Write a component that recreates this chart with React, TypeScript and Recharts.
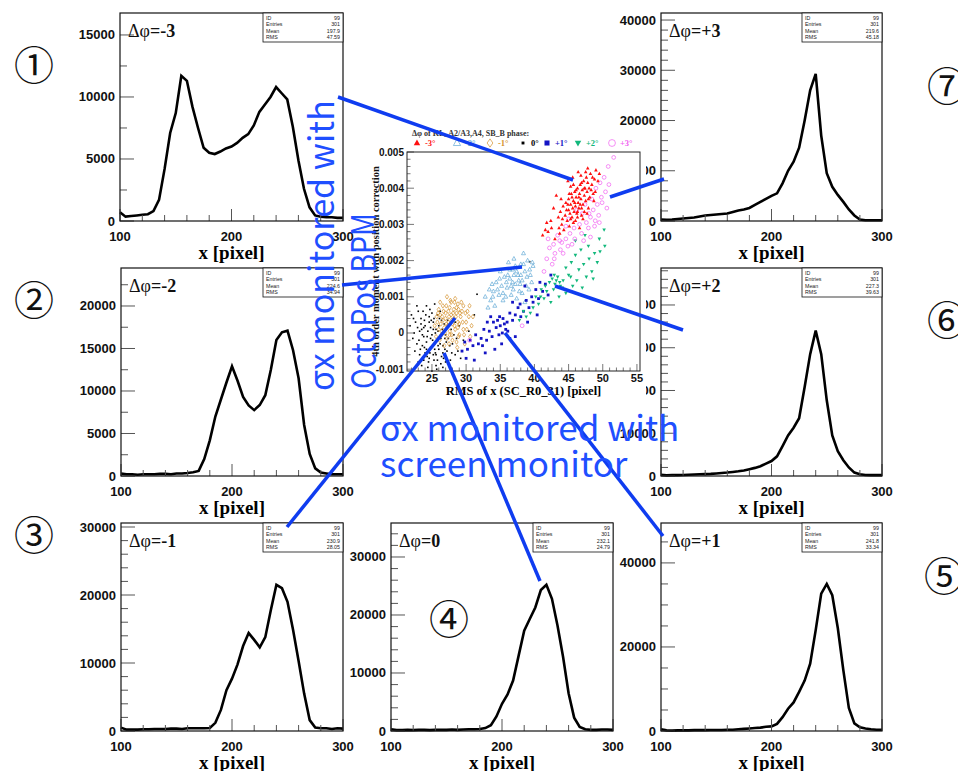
import React from "react";
import { LineChart, Line, XAxis, YAxis, ScatterChart, Scatter } from "recharts";

const SANS = "Liberation Sans, Arial, sans-serif";
const SERIF = "Liberation Serif, Times New Roman, serif";
const JP = "Noto Sans CJK JP, sans-serif";

// histogram bins, x [pixel]
const BINS = [100, 105, 110, 115, 120, 125, 130, 135, 140, 145, 150, 155, 160, 165, 170, 175, 180, 185, 190, 195, 200, 205, 210, 215, 220, 225, 230, 235, 240, 245, 250, 255, 260, 265, 270, 275, 280, 285, 290, 295, 300];
const X_TICKS = [100, 120, 140, 160, 180, 200, 220, 240, 260, 280, 300];

// counts per bin, one profile per phase shift
const H_M3 = [700, 350, 400, 450, 500, 550, 800, 1700, 4200, 7100, 8700, 11700, 11300, 9200, 7500, 5900, 5500, 5400, 5600, 5850, 6000, 6300, 6700, 7000, 7700, 8800, 9400, 10000, 10800, 10300, 9800, 7600, 4900, 2600, 1100, 450, 350, 300, 300, 250, 250];
const H_M2 = [300, 200, 200, 150, 200, 200, 200, 250, 250, 200, 300, 300, 350, 450, 600, 2000, 4200, 7000, 9000, 11000, 12900, 11200, 9300, 8300, 7750, 8350, 9500, 12500, 16000, 16900, 17100, 14800, 11500, 6000, 2600, 900, 400, 300, 200, 200, 200];
const H_M1 = [500, 200, 200, 200, 250, 250, 300, 300, 300, 350, 350, 300, 400, 400, 400, 400, 450, 1200, 3100, 6000, 7700, 9800, 12500, 14400, 13400, 12300, 13800, 17800, 21500, 21000, 19000, 14900, 10300, 5500, 1600, 500, 400, 400, 300, 400, 350];
const H_0 = [300, 150, 150, 200, 150, 200, 200, 150, 200, 200, 200, 250, 200, 250, 300, 300, 350, 500, 1000, 2500, 4700, 6300, 8700, 13000, 17300, 19300, 21300, 24300, 25200, 22800, 18200, 12800, 6500, 2300, 700, 300, 200, 200, 250, 250, 200];
const H_P1 = [400, 150, 100, 150, 150, 150, 200, 200, 200, 250, 250, 250, 300, 300, 400, 500, 600, 700, 800, 1000, 1100, 1700, 3300, 5300, 6800, 9300, 12000, 16000, 24000, 32700, 35000, 32300, 24500, 14500, 5500, 1800, 900, 600, 400, 300, 300];
const H_P2 = [300, 150, 200, 200, 250, 300, 350, 400, 450, 500, 600, 700, 800, 950, 1100, 1300, 1600, 1900, 2300, 2900, 3500, 4600, 7000, 9500, 11300, 13500, 20800, 28500, 34000, 28500, 17700, 9500, 5800, 3700, 2000, 800, 400, 250, 200, 200, 200];
const H_P3 = [300, 250, 300, 400, 500, 600, 700, 900, 1100, 1200, 1300, 1400, 1500, 1800, 2100, 2300, 2600, 3200, 3800, 4400, 5000, 5500, 7500, 10000, 11800, 14600, 20000, 26000, 29300, 17000, 9500, 6800, 5200, 3800, 2300, 1100, 300, 150, 150, 150, 150];

// scatter points: [RMS of x, 4th order moment in units of 1e-3]
const S_ZERO = [[23.0, 0.6], [24.2, 0.75], [25.4, 0.8], [22.6, 0.3], [23.4, 0.4], [24.0, 0.2], [24.6, 0.45], [25.2, 0.3], [25.8, 0.5], [26.4, 0.35], [22.4, 0.0], [23.2, 0.05], [23.8, -0.1], [24.4, 0.05], [25.0, -0.05], [25.6, 0.1], [26.2, -0.1], [26.8, 0.05], [27.4, -0.15], [22.8, -0.3], [23.6, -0.35], [24.2, -0.25], [24.8, -0.4], [25.4, -0.3], [26.0, -0.45], [26.6, -0.35], [27.2, -0.5], [28.0, -0.3], [23.2, -0.6], [24.0, -0.55], [24.6, -0.7], [25.2, -0.6], [25.8, -0.75], [26.4, -0.65], [27.0, -0.8], [24.4, -0.95], [25.6, -0.9], [28.8, -0.5], [29.6, -0.2], [30.4, 0.05], [22.0, 0.5], [25.0, 0.55], [26.0, 0.2], [24.8, -0.15], [25.4, -0.45], [23.8, 0.15], [27.8, 0.1], [28.4, -0.6], [23.0, -0.8], [26.2, 0.6], [22.2, -0.15], [23.6, -0.05], [24.6, 0.3], [25.8, -0.2], [26.6, -0.55], [27.6, -0.35], [25.2, 0.1], [24.2, -0.45], [23.4, 0.25], [26.8, 0.25], [27.0, -0.05], [25.6, -0.6], [24.8, 0.15], [26.2, -0.3], [23.8, -0.75], [28.2, -0.05], [22.8, 0.75], [21.8, 0.2], [29.2, -0.7], [25.0, -1.05], [31.2, 0.5], [26.6, -0.95], [39.3, 1.97], [31.6, 1.07],
  [23.1, -0.2], [23.5, 0.1], [23.9, -0.4], [24.3, -0.1], [24.7, -0.55], [25.1, -0.2], [25.5, 0.0], [25.9, -0.35], [26.3, -0.15], [26.7, -0.7], [27.1, -0.25], [27.5, 0.2], [24.1, 0.5], [24.5, -0.8], [25.3, 0.4], [25.7, -1.0], [26.1, 0.4], [26.9, -0.45], [22.5, -0.5], [22.9, 0.15], [23.3, -0.45], [23.7, 0.6], [24.9, 0.35], [25.5, -0.55], [26.5, 0.1], [27.3, 0.35], [27.9, -0.55], [28.6, -0.15], [29.0, 0.2], [24.3, -0.65], [25.9, 0.05], [26.3, -0.85], [23.5, -0.9], [22.3, 0.4], [24.7, 0.65], [25.3, -0.75], [26.9, -0.15], [28.4, 0.3], [27.7, -0.75], [23.9, 0.35]];
const S_M1 = [[27.2, 1.0], [28.4, 0.95], [26.6, 0.75], [27.6, 0.7], [28.8, 0.8], [29.6, 0.75], [30.2, 0.6], [26.2, 0.5], [27.0, 0.55], [27.8, 0.5], [28.6, 0.55], [29.2, 0.45], [30.0, 0.3], [30.8, 0.2], [25.8, 0.3], [26.6, 0.35], [27.4, 0.3], [28.0, 0.25], [28.8, 0.3], [29.6, 0.1], [26.0, 0.1], [26.8, 0.15], [27.6, 0.05], [28.4, 0.1], [29.0, -0.05], [25.6, -0.1], [26.4, -0.05], [27.2, -0.15], [28.0, -0.2], [28.6, -0.25], [29.8, -0.3], [27.0, 0.4], [28.2, 0.4], [26.0, 0.65], [29.4, 0.6], [30.6, -0.1], [25.4, 0.2], [27.8, 0.85], [26.8, -0.35], [28.8, 0.15], [27.4, 0.6], [28.2, 0.65], [26.4, 0.05], [29.0, 0.25], [27.6, -0.05], [28.6, 0.7], [26.2, 0.85], [30.4, 0.45],
  [27.3, 0.2], [27.9, 0.35], [28.5, 0.45], [29.1, 0.55], [26.5, 0.45], [27.1, 0.75], [27.7, 0.9], [28.3, 0.2], [28.9, -0.1], [29.5, 0.3], [30.1, 0.1], [26.9, 0.0], [27.5, -0.3], [28.1, 0.55], [26.3, 0.25], [25.9, 0.55], [29.3, 0.85], [30.5, 0.75], [31.0, 0.45], [28.7, -0.4], [27.9, -0.05], [26.7, 0.6], [29.9, 0.55], [28.3, 0.85], [27.5, 0.45], [26.1, -0.2], [29.7, -0.05], [25.7, 0.45], [28.9, 0.65], [27.1, 0.25]];
const S_M2 = [[39.8, 1.85], [39.4, 1.6], [39.0, 2.0], [38.6, 1.7], [38.2, 1.45], [38.8, 1.3], [38.0, 1.9], [37.6, 1.6], [37.2, 1.35], [37.8, 1.15], [36.8, 1.75], [36.4, 1.5], [36.0, 1.25], [36.6, 1.05], [35.6, 1.55], [35.2, 1.3], [34.8, 1.05], [35.4, 0.9], [34.4, 1.4], [34.0, 1.15], [33.6, 0.9], [33.2, 0.7], [32.8, 1.0], [34.2, 0.75], [37.0, 2.05], [38.4, 2.2], [39.6, 1.4], [36.2, 1.95], [35.0, 1.7], [37.4, 0.95], [38.6, 0.85], [33.8, 1.35], [36.8, 1.4], [38.0, 1.6], [37.0, 1.6], [39.2, 1.2],
  [37.4, 1.7], [37.9, 1.35], [38.4, 1.9], [38.9, 1.55], [36.9, 1.2], [36.4, 1.75], [35.9, 1.4], [35.4, 1.1], [34.9, 1.5], [34.6, 1.2], [39.3, 1.75], [39.7, 1.95], [38.2, 1.1], [37.2, 1.85], [36.1, 1.6], [35.8, 1.0], [33.9, 1.0], [33.4, 1.2], [36.6, 1.3], [37.7, 1.45]];
const S_P1 = [[42.4, 1.6], [41.6, 1.35], [42.0, 1.05], [41.2, 1.15], [40.6, 0.95], [40.2, 1.2], [39.8, 0.85], [39.2, 0.7], [38.8, 0.9], [38.4, 0.6], [38.0, 0.45], [37.6, 0.7], [37.2, 0.5], [36.8, 0.35], [36.4, 0.55], [36.0, 0.3], [35.8, 0.1], [35.4, 0.4], [35.0, 0.2], [34.8, -0.05], [34.4, 0.15], [34.0, 0.3], [33.8, -0.1], [33.4, 0.05], [33.0, -0.2], [32.6, 0.1], [32.2, -0.15], [31.8, -0.3], [31.4, -0.05], [31.0, -0.35], [30.6, -0.2], [30.2, -0.45], [29.8, -0.25], [29.4, -0.5], [35.2, -0.3], [36.4, -0.15], [34.2, -0.45], [32.8, -0.55], [31.2, -0.75], [37.2, -0.1], [39.0, 0.3], [40.4, 0.5], [33.6, 0.45], [36.8, 0.85], [38.6, 1.3], [30.0, -0.7],
  [34.6, 0.35], [35.6, 0.25], [34.9, 0.45], [33.1, 0.3], [36.1, 0.05], [35.3, 0.0], [32.4, -0.35], [37.9, 0.8], [39.6, 1.0], [40.8, 1.4]];
const S_P2 = [[50.2, 2.85], [50.3, 2.4], [49.5, 2.6], [48.8, 2.2], [49.2, 1.95], [48.0, 2.05], [48.4, 1.7], [47.6, 1.55], [47.2, 1.9], [46.5, 1.75], [46.8, 2.3], [46.0, 2.15], [45.4, 1.95], [45.0, 1.6], [44.6, 1.8], [44.2, 1.45], [43.8, 1.3], [43.4, 1.55], [43.0, 1.35], [42.6, 1.5], [42.8, 1.2], [42.2, 1.4], [41.8, 1.15], [41.4, 0.95], [41.0, 1.2], [40.6, 0.8], [40.2, 1.0], [39.8, 0.7], [39.4, 0.55], [38.8, 0.45], [38.4, 0.6], [37.8, 0.35], [44.6, 1.1], [45.6, 1.3], [47.0, 1.25], [48.6, 1.5], [46.0, 2.55], [47.4, 2.7], [43.6, 1.0], [42.4, 0.85],
  [43.2, 1.45], [42.9, 1.6], [43.7, 1.4], [44.1, 1.25], [45.3, 1.55], [46.2, 1.45], [47.9, 2.4], [49.6, 2.25], [41.6, 1.3], [40.9, 1.0]];
const S_P3 = [[51.6, 4.85], [50.8, 4.6], [50.2, 4.3], [49.6, 4.15], [50.4, 3.9], [49.8, 3.75], [49.2, 3.55], [48.6, 3.4], [49.4, 3.25], [48.2, 3.2], [47.6, 3.05], [48.8, 2.95], [47.0, 3.3], [46.6, 3.0], [45.8, 2.9], [45.2, 2.75], [44.6, 2.6], [44.0, 2.5], [43.4, 2.7], [42.8, 2.45], [42.2, 2.35], [43.0, 2.2], [41.8, 2.05], [42.6, 1.9], [41.4, 1.7], [44.2, 2.2], [45.5, 2.45], [47.2, 2.55], [48.2, 2.65], [49.5, 3.05], [50.6, 3.45], [49.0, 4.0], [48.4, 3.7], [47.4, 3.55], [46.2, 3.4], [45.0, 3.15], [44.6, 2.95], [43.8, 2.3], [42.0, 2.6], [38.2, 0.2], [30.5, -0.2],
  [48.9, 3.1], [47.9, 2.9], [46.9, 2.75], [45.9, 2.6], [44.9, 2.4], [43.7, 2.55], [49.9, 3.6], [50.9, 4.1], [48.0, 3.3], [42.9, 2.05]];
const S_M3 = [[41.2, 2.7], [42.0, 2.8], [42.5, 2.9], [41.8, 3.05], [43.0, 2.6], [43.5, 3.2], [43.8, 3.35], [44.0, 3.0], [44.2, 3.5], [44.5, 3.25], [44.6, 3.6], [44.8, 3.1], [45.0, 3.4], [45.0, 3.7], [45.2, 3.3], [45.3, 3.55], [45.4, 3.85], [45.5, 3.2], [45.6, 3.45], [45.7, 3.65], [45.8, 3.35], [45.9, 3.9], [46.0, 3.5], [46.0, 3.1], [46.1, 3.75], [46.2, 3.3], [46.3, 4.0], [46.4, 3.6], [46.5, 3.45], [46.6, 3.85], [46.7, 4.1], [46.8, 3.7], [46.9, 3.25], [47.0, 3.95], [47.1, 3.55], [47.2, 4.2], [47.3, 3.8], [47.4, 4.0], [47.5, 3.65], [47.6, 4.3], [47.7, 3.9], [47.8, 4.15], [48.0, 4.0], [48.1, 3.75], [48.2, 4.4], [48.4, 4.1], [48.6, 3.85], [48.8, 4.25], [49.0, 4.5], [49.3, 4.2], [44.9, 4.2], [45.6, 4.3], [46.4, 4.45], [47.8, 4.55], [43.2, 3.8], [42.8, 3.45], [44.3, 2.85], [45.1, 2.95], [46.6, 2.9], [43.7, 2.75], [47.9, 3.45], [48.9, 3.9], [45.3, 4.05], [46.8, 4.35],
  [45.3, 3.15], [45.7, 3.05], [46.3, 3.2], [46.7, 3.55], [47.3, 3.35], [47.9, 3.7], [48.3, 3.95], [46.1, 3.95], [45.5, 3.75], [44.7, 3.4], [44.1, 3.15], [43.6, 2.9], [46.9, 4.15], [47.5, 4.45], [48.5, 4.3], [49.5, 4.4], [45.9, 3.6], [46.5, 3.75], [47.1, 3.15], [44.9, 3.55], [45.7, 4.1], [46.3, 3.35], [47.7, 3.3], [48.7, 3.65], [42.4, 3.1], [41.6, 2.85], [43.9, 3.7], [45.1, 3.85], [46.9, 3.45], [47.3, 4.0]];

const SX_TICKS = Array.from({ length: 34 }, (_, i) => 22 + i);
const SY_TICKS = Array.from({ length: 31 }, (_, i) => Number((-0.001 + i * 0.0002).toFixed(4)));

const PANELS = [
  { key: "m3", left: 120, top: 13, w: 223, h: 208, yMax: 16770, major: 5000, minor: 2500, values: H_M3, dphi: "=-3", mean: "197.9", rms: "47.59" },
  { key: "m2", left: 121, top: 268, w: 222, h: 208, yMax: 24470, major: 5000, minor: 2500, values: H_M2, dphi: "=-2", mean: "224.6", rms: "34.94" },
  { key: "m1", left: 121, top: 523, w: 222, h: 208, yMax: 30590, major: 10000, minor: 2000, values: H_M1, dphi: "=-1", mean: "230.9", rms: "28.05" },
  { key: "z", left: 391, top: 523, w: 222, h: 208, yMax: 35860, major: 10000, minor: 2000, values: H_0, dphi: "=0", mean: "232.1", rms: "24.79" },
  { key: "p1", left: 661, top: 523, w: 221, h: 208, yMax: 49500, major: 20000, minor: 5000, values: H_P1, dphi: "=+1", mean: "241.8", rms: "33.34" },
  { key: "p2", left: 661, top: 268, w: 221, h: 208, yMax: 48650, major: 10000, minor: 2000, values: H_P2, dphi: "=+2", mean: "227.3", rms: "39.63" },
  { key: "p3", left: 661, top: 13, w: 221, h: 208, yMax: 41400, major: 10000, minor: 2000, values: H_P3, dphi: "=+3", mean: "219.6", rms: "45.18" },
];

const SERIES = [
  { name: "0°", color: "#000000", kind: "dot", pts: S_ZERO },
  { name: "-1°", color: "#d4902c", kind: "diamondOpen", pts: S_M1 },
  { name: "-2°", color: "#62a9d6", kind: "triOpen", pts: S_M2 },
  { name: "+1°", color: "#1414c4", kind: "square", pts: S_P1 },
  { name: "+2°", color: "#12b87c", kind: "triDown", pts: S_P2 },
  { name: "+3°", color: "#f060f0", kind: "circleOpen", pts: S_P3 },
  { name: "-3°", color: "#ff1010", kind: "tri", pts: S_M3 },
];
const LEGEND_ORDER = ["-3°", "-2°", "-1°", "0°", "+1°", "+2°", "+3°"];
const LEGEND_X = [49, 89, 122, 155, 179, 210, 244];

function Marker({ kind, color, cx, cy, s = 1 }: any) {
  const k = (v: number) => v * s;
  switch (kind) {
    case "tri":
      return <polygon points={`${cx},${cy - k(2)} ${cx - k(1.8)},${cy + k(1.3)} ${cx + k(1.8)},${cy + k(1.3)}`} fill={color} />;
    case "triOpen":
      return <polygon points={`${cx},${cy - k(2.3)} ${cx - k(2)},${cy + k(1.4)} ${cx + k(2)},${cy + k(1.4)}`} fill="none" stroke={color} strokeWidth={0.7} />;
    case "diamondOpen":
      return <polygon points={`${cx},${cy - k(2.3)} ${cx + k(1.6)},${cy} ${cx},${cy + k(2.3)} ${cx - k(1.6)},${cy}`} fill="none" stroke={color} strokeWidth={0.7} />;
    case "dot":
      return <rect x={cx - k(0.8)} y={cy - k(0.8)} width={k(1.6)} height={k(1.6)} fill={color} />;
    case "square":
      return <rect x={cx - k(1.4)} y={cy - k(1.4)} width={k(2.8)} height={k(2.8)} fill={color} />;
    case "triDown":
      return <polygon points={`${cx},${cy + k(2)} ${cx - k(1.8)},${cy - k(1.3)} ${cx + k(1.8)},${cy - k(1.3)}`} fill={color} />;
    default:
      return <circle cx={cx} cy={cy} r={k(1.9)} fill="none" stroke={color} strokeWidth={0.7} />;
  }
}

function HistPanel(p: any) {
  const L = 62, T = 6, R = 22, B = 50;
  const W = L + p.w + R, H = T + p.h + B;
  const data = BINS.map((x, i) => ({ x, y: p.values[i] }));
  const yTicks: number[] = [];
  for (let v = 0; v <= p.yMax; v += p.minor) yTicks.push(v);
  const bx = L + p.w - 80;
  const rows = [["ID", "99"], ["Entries", "301"], ["Mean", p.mean], ["RMS", p.rms]];

  return (
    <div style={{ position: "absolute", left: p.left - L, top: p.top - T, width: W, height: H }}>
      <LineChart width={W} height={H} data={data} margin={{ top: T, right: R, left: 0, bottom: 0 }}>
        <XAxis
          dataKey="x" type="number" domain={[100, 300]} ticks={X_TICKS} interval={0}
          tickSize={0} tickMargin={0} axisLine={false} height={B}
          tick={(t: any) => {
            const v = t.payload.value;
            const major = v % 100 === 0;
            return (
              <g>
                <line x1={t.x} x2={t.x} y1={t.y} y2={t.y - (major ? 12 : 6)} stroke="#555" strokeWidth={1} />
                {major && <text x={t.x} y={t.y + 20} textAnchor="middle" fontSize={13} fontWeight="bold" fontFamily={SANS} fill="#111">{v}</text>}
              </g>
            );
          }}
          label={{ value: "x [pixel]", position: "insideBottom", offset: 12, fontSize: 19, fontWeight: "bold", fontFamily: SERIF, fill: "#000" }}
        />
        <YAxis
          type="number" domain={[0, p.yMax]} ticks={yTicks} interval={0}
          tickSize={0} tickMargin={0} axisLine={false} width={L}
          tick={(t: any) => {
            const v = t.payload.value;
            const major = v % p.major === 0;
            return (
              <g>
                <line x1={t.x} x2={t.x + (major ? 14 : 7)} y1={t.y} y2={t.y} stroke="#555" strokeWidth={1} />
                {major && <text x={t.x - 5} y={t.y + 4.5} textAnchor="end" fontSize={13} fontWeight="bold" fontFamily={SANS} fill="#111">{v}</text>}
              </g>
            );
          }}
        />
        <Line dataKey="y" type="linear" stroke="#000" strokeWidth={2.6} dot={false} isAnimationActive={false} />
      </LineChart>
      <svg width={W} height={H} style={{ position: "absolute", left: 0, top: 0, pointerEvents: "none" }}>
        <rect x={L} y={T} width={p.w} height={p.h} fill="none" stroke="#111" strokeWidth={1.2} />
        <text x={L + 8} y={T + 24} fontSize={18} fontFamily={SERIF} fill="#111">
          <tspan>Δφ</tspan>
          <tspan fontWeight="bold">{p.dphi}</tspan>
        </text>
        <rect x={bx} y={T} width={80} height={29} fill="#fff" stroke="#111" strokeWidth={0.8} />
        {rows.map((r, i) => (
          <g key={r[0]} fontSize={5.3} fontFamily={SANS} fill="#222">
            <text x={bx + 3} y={T + 6.5 + i * 6.6}>{r[0]}</text>
            <text x={bx + 77} y={T + 6.5 + i * 6.6} textAnchor="end">{r[1]}</text>
          </g>
        ))}
      </svg>
    </div>
  );
}

function ScatterPanel() {
  const W = 278, H = 276;
  const byName: any = {};
  SERIES.forEach((s) => (byName[s.name] = s));
  return (
    <div style={{ position: "absolute", left: 368, top: 126, width: W, height: H, background: "#fff" }}>
      <ScatterChart width={W} height={H} margin={{ top: 26, right: 6, left: 0, bottom: 0 }}>
        <XAxis
          type="number" dataKey="x" domain={[21.35, 55.45]} ticks={SX_TICKS} interval={0}
          tickSize={0} tickMargin={0} axisLine={false} height={31}
          tick={(t: any) => {
            const v = t.payload.value;
            const major = v % 5 === 0;
            return (
              <g>
                <line x1={t.x} x2={t.x} y1={t.y} y2={t.y - (major ? 7 : 3.5)} stroke="#555" strokeWidth={0.8} />
                {major && <text x={t.x} y={t.y + 11} textAnchor="middle" fontSize={11} fontWeight="bold" fontFamily={SANS} fill="#111">{v}</text>}
              </g>
            );
          }}
          label={{ value: "RMS of x (SC_R0_31) [pixel]", position: "insideBottom", offset: 7, fontSize: 12.5, fontWeight: "bold", fontFamily: SERIF, fill: "#000" }}
        />
        <YAxis
          type="number" dataKey="y" domain={[-0.001, 0.005]} ticks={SY_TICKS} interval={0}
          tickSize={0} tickMargin={0} axisLine={false} width={39}
          tick={(t: any) => {
            const k = Math.round(t.payload.value * 10000);
            const major = k % 10 === 0;
            return (
              <g>
                <line x1={t.x} x2={t.x + (major ? 7 : 3.5)} y1={t.y} y2={t.y} stroke="#555" strokeWidth={0.8} />
                {major && <text x={t.x - 3} y={t.y + 3.5} textAnchor="end" fontSize={10} fontWeight="bold" fontFamily={SANS} fill="#111">{String(k / 10000)}</text>}
              </g>
            );
          }}
        />
        {SERIES.map((s) => (
          <Scatter
            key={s.name}
            name={s.name}
            data={s.pts.map(([x, y]) => ({ x, y: y / 1000 }))}
            shape={(q: any) => <Marker kind={s.kind} color={s.color} cx={q.cx} cy={q.cy} />}
            isAnimationActive={false}
          />
        ))}
      </ScatterChart>
      <svg width={W} height={H} style={{ position: "absolute", left: 0, top: 0, pointerEvents: "none" }}>
        <rect x={39} y={26} width={233} height={219} fill="none" stroke="#222" strokeWidth={1} />
        <text transform="translate(11,135.5) rotate(-90)" textAnchor="middle" fontSize={10.5} fontWeight="bold" fontFamily={SERIF} fill="#111">
          4th order moment with position correction
        </text>
        <text x={44} y={10} fontSize={8} fontWeight="bold" fontFamily={SERIF} fill="#333">
          Δφ of KL_A2/A3,A4, SB_B phase:
        </text>
        {LEGEND_ORDER.map((n, i) => {
          const s = byName[n];
          return (
            <g key={n}>
              <Marker kind={s.kind} color={s.color} cx={LEGEND_X[i]} cy={17} s={1.8} />
              <text x={LEGEND_X[i] + 8} y={20} fontSize={8.5} fontWeight="bold" fontFamily={SERIF} fill={s.color}>{n}</text>
            </g>
          );
        })}
      </svg>
    </div>
  );
}

const BLUE = "#1f4fff";
const LINE_BLUE = "#0f3cf0";
const POINTERS = [
  [338, 97, 573, 180],
  [610, 197, 664, 179],
  [342, 285, 522, 267],
  [555, 286, 683, 330],
  [287, 527, 455, 318],
  [444, 353, 540, 581],
  [505, 333, 663, 536],
];
const CIRCLED = [
  ["①", 34, 63], ["②", 34, 298], ["③", 34, 533], ["④", 449, 617],
  ["⑤", 944, 574], ["⑥", 947, 318], ["⑦", 947, 84],
];

function Annotations() {
  return (
    <svg width={958} height={771} style={{ position: "absolute", left: 0, top: 0, pointerEvents: "none" }}>
      {POINTERS.map(([x1, y1, x2, y2], i) => (
        <line key={i} x1={x1} y1={y1} x2={x2} y2={y2} stroke={LINE_BLUE} strokeWidth={3.5} />
      ))}
      <g fontFamily={JP} fill={BLUE}>
        <text transform="translate(334,391) rotate(-90)" fontSize={34}>σx monitored with</text>
        <text transform="translate(376,389) rotate(-90)" fontSize={34} textLength={176} lengthAdjust="spacingAndGlyphs">OctoPos BPM</text>
        <text x={380} y={441} fontSize={35}>σx monitored with</text>
        <text x={380} y={477} fontSize={35}>screen monitor</text>
      </g>
      {CIRCLED.map(([c, x, y]) => (
        <text key={c as string} x={x as number} y={y as number} textAnchor="middle" dominantBaseline="central" fontSize={40} fontFamily={JP} fill="#111">
          {c}
        </text>
      ))}
    </svg>
  );
}

export default function App() {
  return (
    <div style={{ position: "absolute", left: 0, top: 0, width: 958, height: 771, background: "#fff", overflow: "hidden" }}>
      {PANELS.map((p) => (
        <HistPanel {...p} />
      ))}
      <ScatterPanel />
      <Annotations />
    </div>
  );
}
